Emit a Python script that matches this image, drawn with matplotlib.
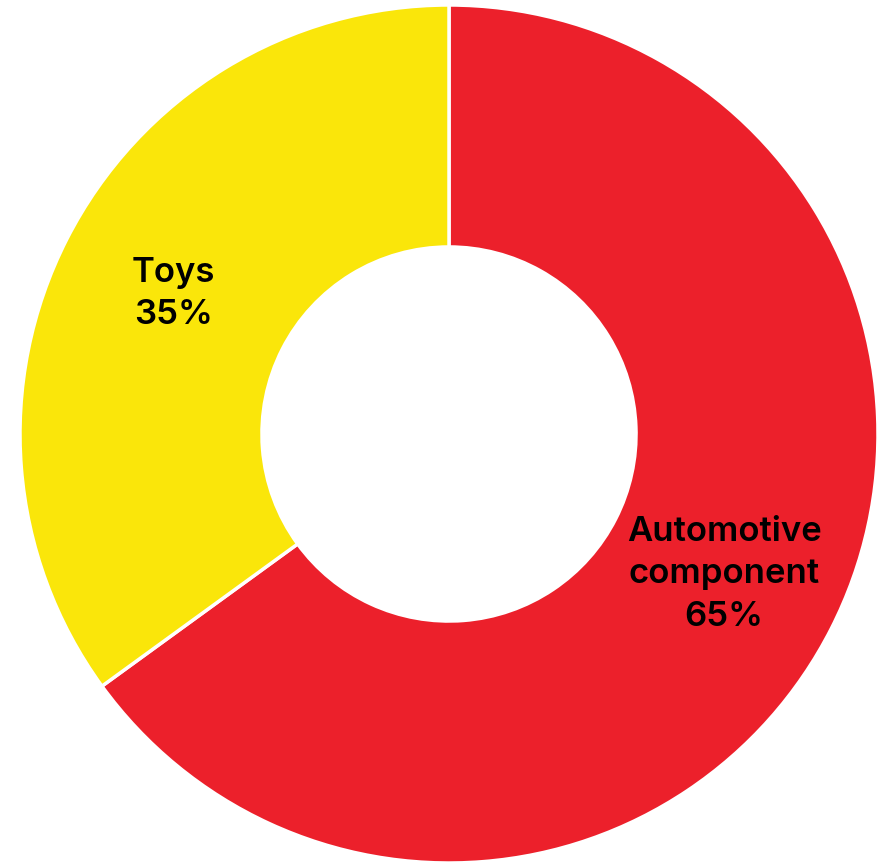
import matplotlib
matplotlib.use("Agg")
import matplotlib.pyplot as plt
import numpy as np

categories = ["Automotive\ncomponent", "Toys"]
shares = [65, 35]
colors = ["#EC202B", "#FAE60A"]

plt.rcParams["font.family"] = ["Inter", "DejaVu Sans"]

fig = plt.figure(figsize=(8.77, 8.64), dpi=100)
ax = fig.add_axes([20 / 877, 1 / 864, 858 / 877, 858 / 864])

wedges, _ = ax.pie(
    shares,
    colors=colors,
    startangle=90,
    counterclock=False,
    radius=1.0,
    wedgeprops=dict(width=0.564, edgecolor="white", linewidth=2.5),
)

# Category name and share placed at mid-angle inside each ring segment
for w, cat, val in zip(wedges, categories, shares):
    mid = np.deg2rad((w.theta1 + w.theta2) / 2)
    r = 0.72
    ax.text(r * np.cos(mid), r * np.sin(mid), f"{cat}\n{val}%",
            ha="center", va="center", fontsize=25, fontweight="semibold",
            color="black", linespacing=1.42)

ax.set_xlim(-1, 1)
ax.set_ylim(-1, 1)
ax.set_aspect("equal")
ax.axis("off")

fig.savefig("out.png", dpi=100)
